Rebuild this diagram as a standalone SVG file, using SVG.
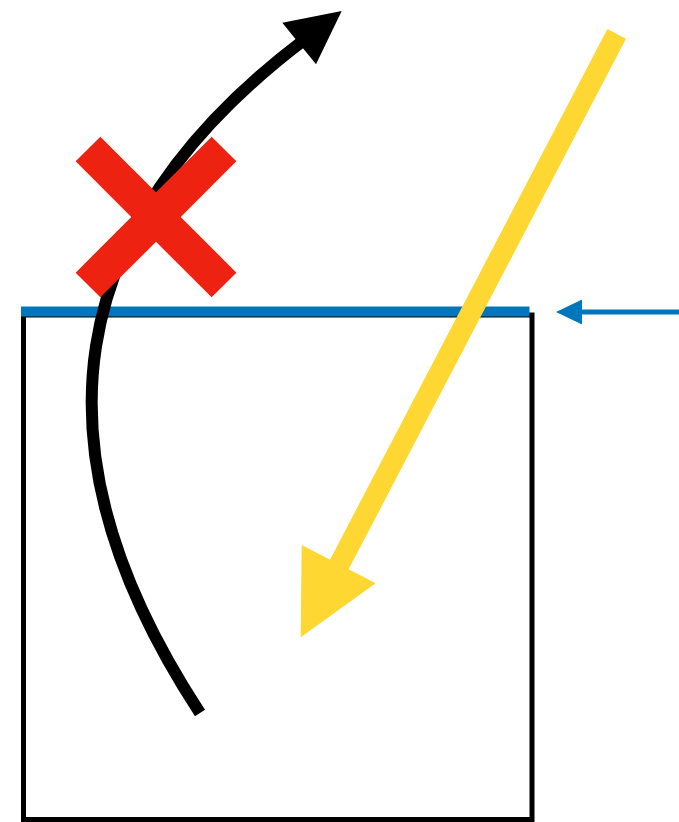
<svg xmlns="http://www.w3.org/2000/svg" width="679" height="822" viewBox="0 0 679 822">
  <style>
    .box { fill: none; stroke: #000; stroke-width: 5; }
    .blue { stroke: #0276BC; fill: none; }
    .blueFill { fill: #0276BC; }
    .yellow { stroke: #FFD733; fill: none; stroke-width: 21; }
    .yellowFill { fill: #FFD733; }
    .black { stroke: #000; fill: none; stroke-width: 12; }
    .blackFill { fill: #000; }
    .red { stroke: #EE2210; stroke-width: 35; stroke-linecap: butt; fill: none; }
  </style>
  <rect width="679" height="822" fill="#fff"/>
  <g id="box">
    <rect class="box" x="23.5" y="315" width="508.5" height="504.5"/>
  </g>
  <g id="surface">
    <line class="blue" x1="21" y1="311.5" x2="529.5" y2="311.5" stroke-width="10"/>
  </g>
  <g id="connectors">
    <g id="blue-arrow">
      <line class="blue" x1="579" y1="312" x2="679" y2="312" stroke-width="5"/>
      <polygon class="blueFill" points="556,312 582,299.5 582,324.5"/>
    </g>
    <g id="yellow-arrow">
      <line class="yellow" x1="616.7" y1="33.8" x2="326" y2="590"/>
      <polygon class="yellowFill" points="300.7,637.3 301.7,545 375.7,583.3"/>
    </g>
    <g id="black-arrow">
      <path class="black" d="M200,713 Q-60,316 304,40"/>
      <polygon class="blackFill" points="341.7,11 282.3,22.7 316,64.3"/>
    </g>
  </g>
  <g id="cross">
    <line class="red" x1="88" y1="149" x2="224" y2="285"/>
    <line class="red" x1="224" y1="149" x2="88" y2="285"/>
  </g>
</svg>
